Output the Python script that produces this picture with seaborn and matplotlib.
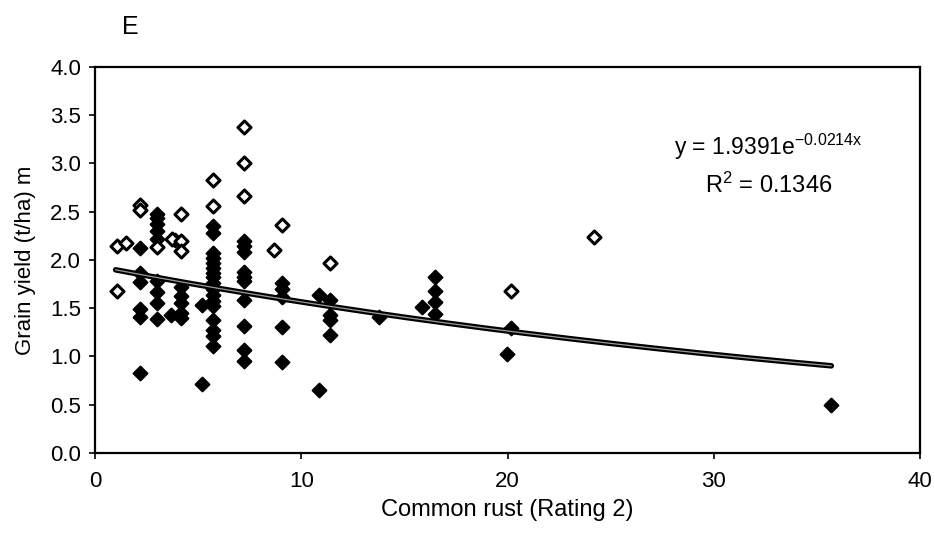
import numpy as np
import pandas as pd
import matplotlib
matplotlib.use("Agg")
import matplotlib.pyplot as plt
import seaborn as sns

# Open (unfilled) diamonds
open_x = [1.08, 1.49, 1.08, 2.16, 2.16, 2.99, 3.74, 4.18, 4.18, 4.18, 5.71, 5.71,
          7.2, 7.2, 7.2, 8.67, 9.07, 11.41, 20.16, 24.17]
open_y = [2.14, 2.18, 1.68, 2.57, 2.52, 2.13, 2.22, 2.48, 2.20, 2.09, 2.83, 2.56,
          3.38, 3.01, 2.66, 2.10, 2.36, 1.97, 1.68, 2.24]

# Filled diamonds
filled_x = [2.16, 2.16, 2.16, 2.16, 2.16, 2.16,
            2.99, 2.99, 2.99, 2.99, 2.99, 2.99, 2.99, 2.99, 2.99,
            3.67, 3.9,
            4.18, 4.18, 4.18, 4.18, 4.18,
            5.2, 5.2,
            5.71, 5.71, 5.71, 5.71, 5.71, 5.71, 5.71, 5.71, 5.71, 5.71, 5.71, 5.71,
            5.71, 5.71, 5.71, 5.71, 5.71,
            7.2, 7.2, 7.2, 7.2, 7.2, 7.2, 7.2, 7.2, 7.2, 7.2,
            9.07, 9.07, 9.07, 9.07, 9.07,
            10.85, 10.85,
            11.41, 11.41, 11.41, 11.41,
            13.75, 15.85,
            16.5, 16.5, 16.5, 16.5,
            20.16, 19.97, 35.7]
filled_y = [2.12, 1.86, 1.77, 1.49, 1.41, 0.83,
            2.48, 2.43, 2.37, 2.30, 2.22, 1.78, 1.67, 1.55, 1.39,
            1.43, 2.21,
            1.72, 1.63, 1.55, 1.45, 1.40,
            1.53, 0.71,
            2.35, 2.28, 2.07, 2.02, 1.97, 1.92, 1.87, 1.82, 1.76, 1.70, 1.64, 1.58,
            1.52, 1.38, 1.27, 1.21, 1.11,
            2.20, 2.14, 2.08, 1.88, 1.82, 1.78, 1.59, 1.32, 1.07, 0.95,
            1.76, 1.70, 1.62, 1.31, 0.94,
            1.64, 0.65,
            1.59, 1.43, 1.38, 1.22,
            1.41, 1.51,
            1.82, 1.68, 1.56, 1.44,
            1.29, 1.03, 0.50]

# Fitted trend: y = a * exp(b x)
fit_a = 1.9391
fit_b = -0.0214
fit_x_range = [1.0, 35.7]

x_ticks = [0, 10, 20, 30, 40]
y_ticks = [0.0, 0.5, 1.0, 1.5, 2.0, 2.5, 3.0, 3.5, 4.0]

sns.set_style("ticks")
plt.rcParams["font.family"] = ["Liberation Sans", "DejaVu Sans"]
plt.rcParams["mathtext.default"] = "regular"
plt.rcParams["text.color"] = "black"
plt.rcParams["axes.labelcolor"] = "black"

fig = plt.figure(figsize=(9.35, 5.35), dpi=100)
ax = fig.add_axes([0.1016, 0.1533, 0.8824, 0.7215])

df_open = pd.DataFrame({"x": open_x, "y": open_y})
df_fill = pd.DataFrame({"x": filled_x, "y": filled_y})

sns.scatterplot(data=df_fill, x="x", y="y", marker="D", s=48, color="black",
                edgecolor="black", linewidth=1.6, ax=ax, zorder=3)
sns.scatterplot(data=df_open, x="x", y="y", marker="D", s=44, color="white",
                edgecolor="black", linewidth=2.2, ax=ax, zorder=4)

tx = np.linspace(fit_x_range[0], fit_x_range[1], 200)
ty = fit_a * np.exp(fit_b * tx)
sns.lineplot(x=tx, y=ty, color="black", linewidth=4.0, ax=ax, zorder=5)
sns.lineplot(x=tx, y=ty, color="#9a9a9a", linewidth=0.9, ax=ax, zorder=6)

ax.set_xlim(0, 40)
ax.set_ylim(0, 4.0)
ax.set_xticks(x_ticks)
ax.set_xticklabels([str(v) for v in x_ticks])
ax.set_yticks(y_ticks)
ax.set_yticklabels([f"{v:.1f}" for v in y_ticks])
ax.tick_params(axis="both", labelsize=16, length=4, width=1.2, color="black",
               labelcolor="black", direction="out")
ax.tick_params(axis="x", pad=9)
ax.tick_params(axis="y", pad=6)
for sp in ax.spines.values():
    sp.set_visible(True)
    sp.set_linewidth(1.6)
    sp.set_color("black")

ax.set_xlabel("Common rust (Rating 2)", fontsize=17, labelpad=5, color="black")
ax.set_ylabel("Grain yield (t/ha) m", fontsize=16, labelpad=10, color="black")

ax.text(0.816, 0.793, "y = 1.9391e$^{-0.0214x}$", transform=ax.transAxes,
        fontsize=16.5, ha="center", va="center", color="black")
ax.text(0.816, 0.694, "R$^{2}$ = 0.1346", transform=ax.transAxes,
        fontsize=17, ha="center", va="center", color="black")

fig.text(0.139, 0.95, "E", fontsize=18, ha="center", va="center", color="black")

fig.savefig("out.png", dpi=100)
